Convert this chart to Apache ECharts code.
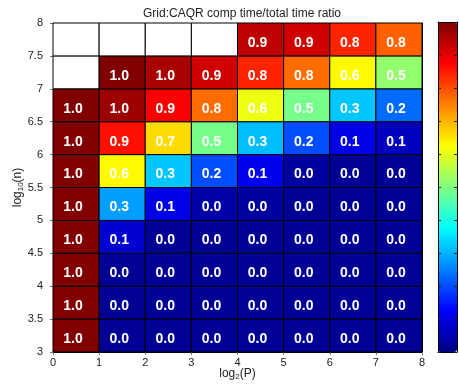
<!DOCTYPE html>
<html>
<head>
<meta charset="utf-8">
<script src="https://cdn.jsdelivr.net/npm/echarts@6/dist/echarts.min.js"></script>
<style>
html,body{margin:0;padding:0;background:#fff;}
#chart{width:459px;height:389px;}
</style>
</head>
<body>
<div id="chart"></div>
<script>
// Column lower edges: log2(P)
const log2P = [0, 1, 2, 3, 4, 5, 6, 7];
// Row lower edges: log10(n)
const log10n = [3, 3.5, 4, 4.5, 5, 5.5, 6, 6.5, 7, 7.5];
// comp time / total time ratio, one array per log10(n) row (null = no run)
const ratio_3_0 = [1.0, 0.02, 0.02, 0.02, 0.02, 0.02, 0.02, 0.02];
const ratio_3_5 = [1.0, 0.02, 0.02, 0.02, 0.02, 0.02, 0.02, 0.02];
const ratio_4_0 = [1.0, 0.02, 0.02, 0.02, 0.02, 0.02, 0.02, 0.02];
const ratio_4_5 = [1.0, 0.08, 0.02, 0.02, 0.02, 0.02, 0.02, 0.02];
const ratio_5_0 = [1.0, 0.28, 0.10, 0.04, 0.03, 0.02, 0.02, 0.02];
const ratio_5_5 = [1.0, 0.63, 0.32, 0.20, 0.11, 0.03, 0.02, 0.02];
const ratio_6_0 = [1.0, 0.86, 0.66, 0.49, 0.31, 0.20, 0.10, 0.06];
const ratio_6_5 = [1.0, 0.97, 0.88, 0.77, 0.61, 0.49, 0.32, 0.23];
const ratio_7_0 = [null, 1.0, 0.96, 0.92, 0.84, 0.77, 0.63, 0.52];
const ratio_7_5 = [null, null, null, null, 0.94, 0.92, 0.84, 0.78];
const ratioRows = [ratio_3_0, ratio_3_5, ratio_4_0, ratio_4_5, ratio_5_0,
                   ratio_5_5, ratio_6_0, ratio_6_5, ratio_7_0, ratio_7_5];
const xTicks = [0, 1, 2, 3, 4, 5, 6, 7, 8];
const yTicks = [3, 3.5, 4, 4.5, 5, 5.5, 6, 6.5, 7, 7.5, 8];

const dx = log2P[1] - log2P[0];
const dy = log10n[1] - log10n[0];

const cells = [];
ratioRows.forEach((row, j) => {
  row.forEach((v, i) => {
    cells.push([log2P[i], log10n[j], v === null ? '-' : v]);
  });
});

const jet = ['#000080', '#0000FF', '#0080FF', '#00FFFF', '#80FF80',
             '#FFFF00', '#FF8000', '#FF0000', '#800000'];

const FONT = 'Liberation Sans, Arial, Helvetica, sans-serif';

const chart = echarts.init(document.getElementById('chart'), null, {renderer: 'canvas'});

const option = {
  backgroundColor: '#fff',
  animation: false,
  textStyle: {fontFamily: FONT},
  title: {
    text: 'Grid:CAQR comp time/total time ratio',
    left: 237, top: 3, textAlign: 'center',
    textStyle: {fontSize: 12, fontWeight: 'normal', color: '#222', fontFamily: FONT}
  },
  grid: [
    {left: 53, right: 37, top: 23, bottom: 37, containLabel: false, outerBoundsMode: 'none'},
    {left: 438, top: 22, width: 19, height: 330, containLabel: false, outerBoundsMode: 'none'}
  ],
  visualMap: {
    type: 'continuous', min: 0, max: 1, dimension: 2, seriesIndex: 0,
    orient: 'vertical', left: 438, top: 22, padding: 0,
    itemWidth: 19, itemHeight: 330, calculable: false, hoverLink: false,
    text: null,
    inRange: {color: jet}
  },
  xAxis: [
    {
      type: 'value', gridIndex: 0, min: xTicks[0], max: xTicks[xTicks.length - 1], interval: 1,
      position: 'bottom',
      name: 'log{sub|2}(P)', nameLocation: 'middle', nameGap: 14, nameMoveOverlap: false,
      nameTextStyle: {
        fontSize: 12, color: '#222', fontFamily: FONT,
        rich: {sub: {fontSize: 8, color: '#222', fontFamily: FONT, padding: [7, 0, 0, 0]}}
      },
      axisLine: {show: true, onZero: false, lineStyle: {color: '#000', width: 1}},
      axisTick: {show: true, inside: false, length: 3, lineStyle: {color: '#777'}},
      axisLabel: {color: '#222', fontSize: 11, margin: 5, fontFamily: FONT},
      splitLine: {show: false}
    },
    {
      type: 'value', gridIndex: 0, min: 0, max: 8, interval: 1, position: 'top',
      axisLine: {show: true, onZero: false, lineStyle: {color: '#000', width: 1}},
      axisTick: {show: false}, axisLabel: {show: false}, splitLine: {show: false}
    },
    {
      type: 'value', gridIndex: 1, min: 0, max: 1, position: 'bottom', z: 10,
      axisLine: {show: true, onZero: false, lineStyle: {color: '#000'}},
      axisTick: {show: false}, axisLabel: {show: false}, splitLine: {show: false}
    },
    {
      type: 'value', gridIndex: 1, min: 0, max: 1, position: 'top', z: 10,
      axisLine: {show: true, onZero: false, lineStyle: {color: '#000'}},
      axisTick: {show: false}, axisLabel: {show: false}, splitLine: {show: false}
    }
  ],
  yAxis: [
    {
      type: 'value', gridIndex: 0, min: yTicks[0], max: yTicks[yTicks.length - 1], interval: 0.5,
      position: 'left',
      name: 'log{sub|10}(n)', nameLocation: 'middle', nameGap: 28, nameRotate: 90,
      nameMoveOverlap: false,
      nameTextStyle: {
        fontSize: 12, color: '#222', fontFamily: FONT,
        rich: {sub: {fontSize: 8, color: '#222', fontFamily: FONT, padding: [7, 0, 0, 0]}}
      },
      axisLine: {show: true, onZero: false, lineStyle: {color: '#000', width: 1}},
      axisTick: {show: true, inside: false, length: 3, lineStyle: {color: '#777'}},
      axisLabel: {color: '#222', fontSize: 11, margin: 10, fontFamily: FONT},
      splitLine: {show: false}
    },
    {
      type: 'value', gridIndex: 0, min: 3, max: 8, interval: 0.5, position: 'right',
      axisLine: {show: true, onZero: false, lineStyle: {color: '#000', width: 1}},
      axisTick: {show: false}, axisLabel: {show: false}, splitLine: {show: false}
    },
    {
      type: 'value', gridIndex: 1, min: 0, max: 1, interval: 0.1, position: 'left', z: 10,
      axisLine: {show: true, onZero: false, lineStyle: {color: '#000'}},
      axisTick: {show: true, inside: true, length: 3, lineStyle: {color: '#222'}},
      axisLabel: {show: false}, splitLine: {show: false}
    },
    {
      type: 'value', gridIndex: 1, min: 0, max: 1, interval: 0.1, position: 'right', z: 10,
      axisLine: {show: true, onZero: false, lineStyle: {color: '#000'}},
      axisTick: {show: true, inside: true, length: 3, lineStyle: {color: '#222'}},
      axisLabel: {show: false}, splitLine: {show: false}
    }
  ],
  series: [
    {
      type: 'custom',
      xAxisIndex: 0, yAxisIndex: 0,
      data: cells,
      encode: {x: 0, y: 1},
      renderItem: function (params, api) {
        const x = api.value(0), y = api.value(1), v = api.value(2);
        const tl = api.coord([x, y + dy]);
        const br = api.coord([x + dx, y]);
        const empty = (v === '-' || v === null || isNaN(v));
        const rect = {
          type: 'rect',
          shape: {x: tl[0], y: tl[1], width: br[0] - tl[0], height: br[1] - tl[1]},
          style: {fill: empty ? '#ffffff' : api.visual('color'), stroke: '#000', lineWidth: 1}
        };
        const children = [rect];
        if (!empty) {
          children.push({
            type: 'text',
            x: (tl[0] + br[0]) / 2 - 3,
            y: (tl[1] + br[1]) / 2 + 3.5,
            style: {
              text: Number(v).toFixed(1), fill: '#fff',
              font: 'bold 14px ' + FONT, align: 'center', verticalAlign: 'middle'
            }
          });
        }
        return {type: 'group', children: children};
      }
    }
  ]
};
chart.setOption(option);
</script>
</body>
</html>
